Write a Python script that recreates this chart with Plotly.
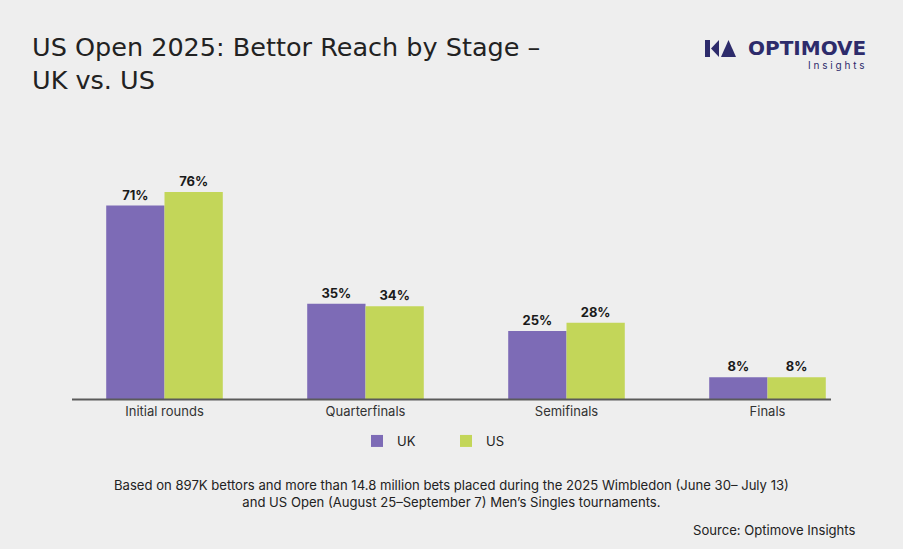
import plotly.graph_objects as go

categories = ["Initial rounds", "Quarterfinals", "Semifinals", "Finals"]
uk_values = [71, 35, 25, 8]
us_values = [76, 34, 28, 8]
series_names = ["UK", "US"]

W, H = 903, 549
ML, MR, MT, MB = 64, 35, 181, 150
pw = W - ML - MR
ph = H - MT - MB

def px(x):
    return (x - ML) / pw

def py(y):
    return (H - MB - y) / ph

FONT = "Inter"
TFONT = "DejaVu Sans"

fig = go.Figure()
fig.add_trace(go.Bar(
    x=categories, y=uk_values, name=series_names[0],
    marker=dict(color="#7d6bb6", line=dict(width=0)),
    text=[f"{v}%" for v in uk_values], textposition="outside",
    textfont=dict(family=FONT, size=13, color="#1a1a1a", weight="bold"),
    cliponaxis=False,
))
fig.add_trace(go.Bar(
    x=categories, y=us_values, name=series_names[1],
    marker=dict(color="#c3d659", line=dict(width=0)),
    text=[f"{v}%" for v in us_values], textposition="outside",
    textfont=dict(family=FONT, size=13, color="#1a1a1a", weight="bold"),
    cliponaxis=False,
))

fig.update_layout(
    width=W, height=H,
    margin=dict(l=ML, r=MR, t=MT, b=MB),
    paper_bgcolor="#eeeeee", plot_bgcolor="#eeeeee",
    barmode="group", bargap=0.42, bargroupgap=0,
    font=dict(family=FONT, color="#333333"),
    showlegend=True,
    legend=dict(orientation="h", x=px(446), xanchor="center", y=py(441), yanchor="middle",
                font=dict(family=FONT, size=13, color="#222222"),
                entrywidth=44, entrywidthmode="pixels", bgcolor="rgba(0,0,0,0)"),
    xaxis=dict(showgrid=False, showline=False, zeroline=False, ticklabelstandoff=3,
               ticks="", tickfont=dict(family=FONT, size=13, color="#333333")),
    yaxis=dict(range=[0, 80], showgrid=False, showticklabels=False, zeroline=False,
               showline=False),
)

# Baseline
fig.add_shape(type="line", xref="paper", yref="paper", x0=px(72), x1=px(831), y0=py(399.5), y1=py(399.5),
              line=dict(color="#5a5a5a", width=2), layer="above")

# Title
fig.add_annotation(xref="paper", yref="paper", x=px(30), y=py(30), xanchor="left", yanchor="top",
                   text="US Open 2025: Bettor Reach by Stage –<br>UK vs. US", showarrow=False, align="left",
                   font=dict(family=TFONT, size=25.5, color="#222222"))

# Logo text
navy = "#2d2b6b"
fig.add_annotation(xref="paper", yref="paper", x=px(868), y=py(47.5), xanchor="right", yanchor="middle",
                   text="<b>OPTIMOVE</b>", showarrow=False,
                   font=dict(family="DejaVu Sans", size=20, color=navy))
fig.add_annotation(xref="paper", yref="paper", x=px(867), y=py(65), xanchor="right", yanchor="middle",
                   text="I n s i g h t s", showarrow=False,
                   font=dict(family=FONT, size=10, color=navy))
# Logo icon
fig.add_shape(type="path", xref="paper", yref="paper",
              path=f"M {px(705)} {py(40)} L {px(710)} {py(40)} L {px(710)} {py(57)} L {px(705)} {py(57)} Z",
              fillcolor=navy, line=dict(width=0))
fig.add_shape(type="path", xref="paper", yref="paper",
              path=f"M {px(711)} {py(48.5)} L {px(719)} {py(40)} L {px(719)} {py(57)} Z",
              fillcolor=navy, line=dict(width=0))
fig.add_shape(type="path", xref="paper", yref="paper",
              path=f"M {px(721)} {py(57)} L {px(728.5)} {py(40)} L {px(736)} {py(57)} Z",
              fillcolor=navy, line=dict(width=0))

# Footnote
fig.add_annotation(xref="paper", yref="paper", x=px(451), y=py(493), xanchor="center", yanchor="middle",
                   text="Based on 897K bettors and more than 14.8 million bets placed during the 2025 Wimbledon (June 30– July 13)<br>and US Open (August 25–September 7) Men’s Singles tournaments.",
                   showarrow=False, align="center",
                   font=dict(family=FONT, size=13.1, color="#222222"))
fig.add_annotation(xref="paper", yref="paper", x=px(858), y=py(530), xanchor="right", yanchor="middle",
                   text="Source: Optimove Insights", showarrow=False,
                   font=dict(family=FONT, size=13.1, color="#222222"))

fig.write_html("out.html")
